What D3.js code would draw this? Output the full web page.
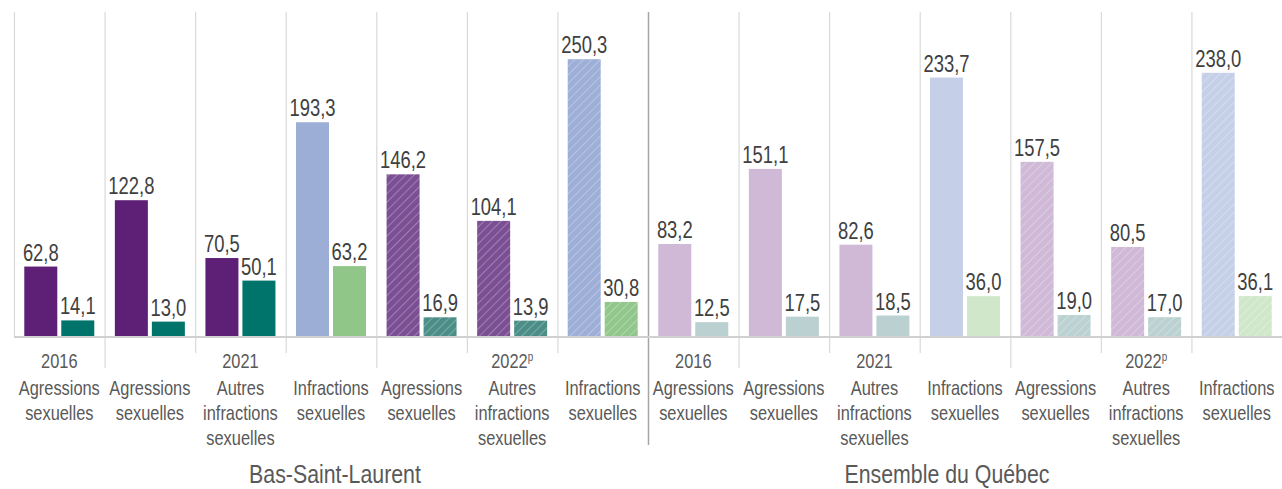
<!DOCTYPE html>
<html>
<head>
<meta charset="utf-8">
<script src="https://cdn.jsdelivr.net/npm/d3@7/dist/d3.min.js"></script>
<style>
  body { margin: 0; background: #fff; }
  svg { display: block; }
  .val { font-family: "Liberation Sans", Arial, sans-serif; font-size: 23px; fill: #404040; text-anchor: middle; }
  .cat { font-family: "Liberation Sans", Arial, sans-serif; font-size: 20px; fill: #595959; text-anchor: middle; }
  .reg { font-family: "Liberation Sans", Arial, sans-serif; font-size: 26px; fill: #595959; text-anchor: middle; }
</style>
</head>
<body>
<svg width="1282" height="489"></svg>
<script>
// data
var regions = ["Bas-Saint-Laurent", "Ensemble du Québec"];
var years = ["2016", "", "2021", "", "", "2022p", ""];
var categories = ["Agressions sexuelles", "Agressions sexuelles", "Autres infractions sexuelles",
                  "Infractions sexuelles", "Agressions sexuelles", "Autres infractions sexuelles",
                  "Infractions sexuelles"];
var series1 = [[62.8, 122.8, 70.5, 193.3, 146.2, 104.1, 250.3],
               [83.2, 151.1, 82.6, 233.7, 157.5, 80.5, 238.0]];
var series2 = [[14.1, 13.0, 50.1, 63.2, 16.9, 13.9, 30.8],
               [12.5, 17.5, 18.5, 36.0, 19.0, 17.0, 36.1]];

// styling per group (not data)
var kind = ["a", "a", "a", "i", "a", "a", "i"];
var hatched = [0, 0, 0, 0, 1, 1, 1];
var colors = {
  0: { a: ["#5e1f77", "#00736b"], i: ["#9caed6", "#91c689"],
       ah: ["#7b4f94", "#4b8d87"], ih: ["#9daed7", "#92c78b"] },
  1: { a: ["#cfb9d7", "#bad0d1"], i: ["#c5cfe8", "#d0e7c9"],
       ah: ["#cfb9d7", "#bcd1d1"], ih: ["#c5cfe8", "#d0e7c9"] }
};

var svg = d3.select("svg"),
    width = +svg.attr("width"),
    height = +svg.attr("height");

var plotLeft = 14, plotRight = 1282, plotTop = 12, base = 336;
var squeeze = "scale(0.82,1)";   // narrow font look

var groups = [];
regions.forEach(function(r, ri) {
  categories.forEach(function(c, ci) {
    groups.push({ r: ri, c: ci, key: ri + "-" + ci, v: [series1[ri][ci], series2[ri][ci]] });
  });
});

var x = d3.scaleBand()
    .domain(groups.map(function(d) { return d.key; }))
    .range([plotLeft, plotRight]);

var xs = d3.scaleBand()
    .domain([0, 1])
    .range([0, x.bandwidth()])
    .paddingInner(0.108)
    .paddingOuter(0.278);

var y = d3.scaleLinear()
    .domain([0, 293])
    .range([base, plotTop]);

// hatch patterns
var defs = svg.append("defs");
function patternId(ri, k, s) { return "p" + ri + k + s; }
[0, 1].forEach(function(ri) {
  ["ah", "ih"].forEach(function(k) {
    [0, 1].forEach(function(s) {
      var p = defs.append("pattern")
          .attr("id", patternId(ri, k, s))
          .attr("patternUnits", "userSpaceOnUse")
          .attr("width", 6).attr("height", 6)
          .attr("patternTransform", "rotate(45)");
      p.append("rect").attr("width", 6).attr("height", 6).attr("fill", colors[ri][k][s]);
      p.append("line").attr("x1", 0).attr("y1", 0).attr("x2", 0).attr("y2", 6)
          .attr("stroke", "#fff").attr("stroke-opacity", 0.5).attr("stroke-width", 1.1);
    });
  });
});

function fillOf(d, s) {
  var k = kind[d.c];
  if (hatched[d.c]) return "url(#" + patternId(d.r, k + "h", s) + ")";
  return colors[d.r][k][s];
}

// vertical grid lines inside plot
var bounds = groups.map(function(d) { return x(d.key); });
svg.selectAll(".grid")
  .data(bounds)
  .enter().append("line")
    .attr("x1", function(d) { return d + 0.5; })
    .attr("x2", function(d) { return d + 0.5; })
    .attr("y1", plotTop)
    .attr("y2", base)
    .attr("stroke", function(d, i) { return i === 7 ? "#a6a6a6" : "#d9d9d9"; })
    .attr("stroke-width", function(d, i) { return i === 7 ? 1.5 : 1.2; });

// tick lines below the axis
svg.selectAll(".tick")
  .data(bounds.slice(1))
  .enter().append("line")
    .attr("x1", function(d) { return d + 0.5; })
    .attr("x2", function(d) { return d + 0.5; })
    .attr("y1", base)
    .attr("y2", function(d, i) {
      var b = (i + 1) % 7;
      if (i + 1 === 7) return 445;
      return (b === 1 || b === 4) ? 368 : 353;
    })
    .attr("stroke", function(d, i) { return i + 1 === 7 ? "#a6a6a6" : "#d9d9d9"; })
    .attr("stroke-width", function(d, i) { return i + 1 === 7 ? 1.5 : 1.2; });

// bars
var g = svg.selectAll(".group")
  .data(groups)
  .enter().append("g")
    .attr("transform", function(d) { return "translate(" + x(d.key) + ",0)"; });

g.selectAll("rect")
  .data(function(d) { return d.v.map(function(v, s) { return { g: d, s: s, v: v }; }); })
  .enter().append("rect")
    .attr("x", function(d) { return xs(d.s); })
    .attr("width", xs.bandwidth())
    .attr("y", function(d) { return y(d.v); })
    .attr("height", function(d) { return base - y(d.v); })
    .attr("fill", function(d) { return fillOf(d.g, d.s); });

g.selectAll(".val")
  .data(function(d) { return d.v.map(function(v, s) { return { s: s, v: v }; }); })
  .enter().append("text")
    .attr("class", "val")
    .attr("transform", function(d) {
      return "translate(" + (xs(d.s) + xs.bandwidth() / 2) + "," + (y(d.v) - 6) + ")scale(0.8,1)";
    })
    .text(function(d) { return d3.format(".1f")(d.v).replace(".", ","); });

// axis baseline
svg.append("line")
    .attr("x1", plotLeft).attr("x2", plotRight)
    .attr("y1", base + 1).attr("y2", base + 1)
    .attr("stroke", "#d0d0d0").attr("stroke-width", 2);

// year labels
g.filter(function(d) { return years[d.c]; })
  .append("text")
    .attr("class", "cat")
    .attr("transform", "translate(" + (x.bandwidth() / 2) + ",368)" + squeeze)
    .each(function(d) {
      var t = d3.select(this), yr = years[d.c];
      if (yr.slice(-1) === "p") {
        t.append("tspan").text(yr.slice(0, -1));
        t.append("tspan").attr("font-size", 12).attr("dy", -7).text("p");
      } else {
        t.text(yr);
      }
    });

// category labels
g.append("text")
    .attr("class", "cat")
    .attr("transform", "translate(" + (x.bandwidth() / 2) + ",395)" + squeeze)
    .selectAll("tspan")
    .data(function(d) { return categories[d.c].split(" "); })
    .enter().append("tspan")
      .attr("x", 0)
      .attr("dy", function(d, i) { return i ? 25 : 0; })
      .text(function(d) { return d; });

// region labels
var regionShift = [4, -18];
svg.selectAll(".reg")
  .data(regions)
  .enter().append("text")
    .attr("class", "reg")
    .attr("transform", function(d, i) {
      var a = x(i + "-0"), b = x(i + "-6") + x.bandwidth();
      return "translate(" + ((a + b) / 2 + regionShift[i]) + ",483)" + squeeze;
    })
    .text(function(d) { return d; });
</script>
</body>
</html>
